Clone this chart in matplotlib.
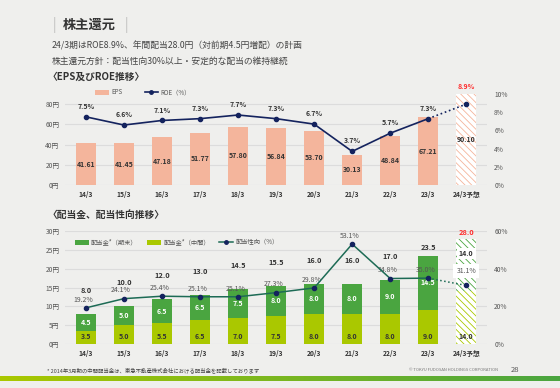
import numpy as np
import matplotlib
matplotlib.use("Agg")
import matplotlib.pyplot as plt
from matplotlib.patches import Patch
from matplotlib.lines import Line2D
from matplotlib.colors import LinearSegmentedColormap

plt.rcParams['font.family'] = ['Noto Sans CJK JP', 'DejaVu Sans']
plt.rcParams['hatch.linewidth'] = 0.6

# data
years = ['14/3', '15/3', '16/3', '17/3', '18/3', '19/3', '20/3', '21/3', '22/3', '23/3', '24/3予想']
eps = [41.61, 41.45, 47.18, 51.77, 57.80, 56.84, 53.70, 30.13, 48.84, 67.21, 90.10]
roe = [7.5, 6.6, 7.1, 7.3, 7.7, 7.3, 6.7, 3.7, 5.7, 7.3, 8.9]
div_interim = [3.5, 5.0, 5.5, 6.5, 7.0, 7.5, 8.0, 8.0, 8.0, 9.0, 14.0]
div_yearend = [4.5, 5.0, 6.5, 6.5, 7.5, 8.0, 8.0, 8.0, 9.0, 14.5, 14.0]
payout = [19.2, 24.1, 25.4, 25.1, 25.1, 27.3, 29.8, 53.1, 34.8, 35.0, 31.1]

BG = '#efefed'
SALMON = '#f4b59c'
NAVY = '#14235e'
GREEN = '#4aa540'
YGREEN = '#aac800'
TEAL = '#1d6b55'
TXT = '#333333'

fig = plt.figure(figsize=(5.6, 3.88), dpi=100, facecolor=BG)
x = np.arange(len(years))
n = len(years)
w = 0.52

# header text
fig.text(0.093, 0.935, '|', fontsize=10, color='#aaaaaa', va='center', fontweight='light')
fig.text(0.112, 0.935, '株主還元', fontsize=9.5, fontweight='bold', color='#333333', va='center')
fig.text(0.222, 0.935, '|', fontsize=10, color='#aaaaaa', va='center', fontweight='light')
fig.text(0.093, 0.881, '24/3期はROE8.9%、年間配当28.0円（対前期4.5円増配）の計画', fontsize=6.3, color='#444444', va='center')
fig.text(0.093, 0.842, '株主還元方針：配当性向30%以上・安定的な配当の維持継続', fontsize=6.3, color='#444444', va='center')
fig.text(0.085, 0.801, '〈EPS及びROE推移〉', fontsize=7, fontweight='bold', color='#333333', va='center')
fig.text(0.085, 0.447, '〈配当金、配当性向推移〉', fontsize=7, fontweight='bold', color='#333333', va='center')

# ---- top chart: EPS & ROE
ax1 = fig.add_axes([0.116, 0.523, 0.754, 0.2345])
ax1.set_facecolor(BG)
ax1.bar(x[:-1], eps[:-1], width=w, color=SALMON, zorder=2)
ax1.bar(x[-1], eps[-1], width=w, color='white', edgecolor=SALMON, linewidth=0, hatch='\\\\\\\\\\', zorder=2)
for i in range(n):
    ax1.text(x[i], eps[i] / 2, f'{eps[i]:.2f}', ha='center', va='center', fontsize=5, fontweight='bold', color=TXT, zorder=5)
ax1.set_ylim(0, 90)
ax1.set_yticks([0, 20, 40, 60, 80])
ax1.set_yticklabels([f'{v}円' for v in [0, 20, 40, 60, 80]])
ax1.set_xlim(-0.55, n - 0.45)
ax1.set_xticks(x)
ax1.set_xticklabels(years, fontweight='bold')
ax1.grid(axis='y', color='#dcdcdc', linewidth=0.8, zorder=0)
ax1.set_axisbelow(True)
for s in ax1.spines.values():
    s.set_visible(False)
ax1.tick_params(length=0, labelsize=4.8, colors='#555555', pad=4)
ax1.tick_params(axis='x', pad=4, colors=TXT)

ax1r = ax1.twinx()
ax1r.plot(x[:-1], roe[:-1], color=NAVY, linewidth=1.2, marker='o', markersize=3, zorder=4)
ax1r.plot(x[-2:], roe[-2:], color=NAVY, linewidth=1.2, linestyle=':', zorder=4)
ax1r.plot(x[-1], roe[-1], color=NAVY, marker='o', markersize=3, zorder=4)
for i in range(n):
    last = i == n - 1
    ax1r.annotate(f'{roe[i]:.1f}%', (x[i], roe[i]), xytext=(0, 10 if last else 5), textcoords='offset points',
                  ha='center', va='bottom', fontsize=5, fontweight='bold',
                  color='#ff2a2a' if last else TXT)
ax1r.set_ylim(0, 10)
ax1r.set_yticks([0, 2, 4, 6, 8, 10])
ax1r.set_yticklabels([f'{v}%' for v in [0, 2, 4, 6, 8, 10]])
for s in ax1r.spines.values():
    s.set_visible(False)
ax1r.tick_params(length=0, labelsize=4.8, colors='#555555', pad=5)

leg1 = fig.legend(handles=[Patch(facecolor=SALMON, label='EPS'),
                           Line2D([0], [0], color=NAVY, marker='o', markersize=2.5, linewidth=1.2, label='ROE（%）')],
                  loc='center left', bbox_to_anchor=(0.16, 0.762), ncol=2, frameon=False, fontsize=4.5,
                  handlelength=2.2, handleheight=0.8, columnspacing=3.5, handletextpad=0.4)
for t in leg1.get_texts():
    t.set_color('#555555')

# ---- bottom chart: dividends & payout ratio
ax2 = fig.add_axes([0.116, 0.1134, 0.754, 0.291])
ax2.set_facecolor(BG)
ax2.bar(x[:-1], div_interim[:-1], width=w, color=YGREEN, zorder=2)
ax2.bar(x[:-1], div_yearend[:-1], width=w, bottom=div_interim[:-1], color=GREEN, zorder=2)
ax2.bar(x[-1], div_interim[-1], width=w, color='white', edgecolor=YGREEN, linewidth=0, hatch='\\\\\\\\\\', zorder=2)
ax2.bar(x[-1], div_yearend[-1], width=w, bottom=div_interim[-1], color='white', edgecolor=GREEN, linewidth=0,
        hatch='\\\\\\\\\\', zorder=2)

total = [a + b for a, b in zip(div_interim, div_yearend)]
total_off = [5.3] * 9 + [1.2, 0.6]
for i in range(n):
    ax2.text(x[i], 2.0, f'{div_interim[i]:.1f}', ha='center', va='center', fontsize=5, fontweight='bold', color=TXT, zorder=5)
    if i < n - 1:
        ax2.text(x[i], div_interim[i] + div_yearend[i] / 2, f'{div_yearend[i]:.1f}', ha='center', va='center',
                 fontsize=5, fontweight='bold', color='white', zorder=5)
    else:
        ax2.text(x[i], 24.0, f'{div_yearend[i]:.1f}', ha='center', va='center', fontsize=5, fontweight='bold',
                 color=TXT, zorder=5, bbox=dict(facecolor='white', edgecolor='none', pad=1.6))
    ax2.text(x[i], total[i] + total_off[i], f'{total[i]:.1f}', ha='center', va='bottom', fontsize=5.3,
             fontweight='bold', color='#ff2a2a' if i == n - 1 else TXT, zorder=5)
ax2.set_ylim(0, 30)
ax2.set_yticks(range(0, 31, 5))
ax2.set_yticklabels([f'{v}円' for v in range(0, 31, 5)])
ax2.set_xlim(-0.55, n - 0.45)
ax2.set_xticks(x)
ax2.set_xticklabels(years, fontweight='bold')
ax2.grid(axis='y', color='#dcdcdc', linewidth=0.8, zorder=0)
ax2.set_axisbelow(True)
for s in ax2.spines.values():
    s.set_visible(False)
ax2.tick_params(length=0, labelsize=4.8, colors='#555555', pad=4)
ax2.tick_params(axis='x', pad=4, colors=TXT)

ax2r = ax2.twinx()
ax2r.plot(x[:-1], payout[:-1], color=TEAL, linewidth=1.1, zorder=4)
ax2r.plot(x[-2:], payout[-2:], color=TEAL, linewidth=1.1, linestyle=':', zorder=4)
ax2r.plot(x, payout, linestyle='none', marker='o', markersize=3, color=NAVY, zorder=5)
for i in range(n):
    if i == n - 1:
        ax2r.text(x[i], payout[i] + 7.5, f'{payout[i]:.1f}%', ha='center', va='center', fontsize=5,
                  color='#555555', zorder=6, bbox=dict(facecolor='white', edgecolor='none', pad=2.2))
    else:
        ax2r.annotate(f'{payout[i]:.1f}%', (x[i], payout[i]), xytext=(-2, 3), textcoords='offset points',
                      ha='center', va='bottom', fontsize=5, color='#555555')
ax2r.set_ylim(0, 60)
ax2r.set_yticks([0, 20, 40, 60])
ax2r.set_yticklabels([f'{v}%' for v in [0, 20, 40, 60]])
for s in ax2r.spines.values():
    s.set_visible(False)
ax2r.tick_params(length=0, labelsize=4.8, colors='#555555', pad=5)

leg2 = ax2.legend(handles=[Patch(facecolor=GREEN, label='配当金*（期末）'),
                           Patch(facecolor=YGREEN, label='配当金*（中間）'),
                           Line2D([0], [0], color=TEAL, marker='o', markerfacecolor=NAVY, markeredgecolor=NAVY,
                                  markersize=2.5, linewidth=1.1, label='配当性向（%）')],
                  loc='center left', bbox_to_anchor=(0.01, 0.9), ncol=3, frameon=False, fontsize=4.5,
                  handlelength=2.2, handleheight=0.8, columnspacing=1.5, handletextpad=0.4)
for t in leg2.get_texts():
    t.set_color('#555555')

# footer
fig.text(0.084, 0.046, '* 2014年3月期の中間配当金は、東急不動産株式会社における配当金を記載しております', fontsize=3.9,
         color='#444444', va='center')
fig.text(0.89, 0.046, '© TOKYU FUDOSAN HOLDINGS CORPORATION', fontsize=3, color='#777777', va='center', ha='right')
fig.text(0.912, 0.046, '28', fontsize=5.5, color='#555555', va='center')

axg = fig.add_axes([0, 0.018, 1, 0.013])
grad = np.linspace(0, 1, 256)[None, :]
cmap = LinearSegmentedColormap.from_list('g', [YGREEN, GREEN])
axg.imshow(grad, aspect='auto', cmap=cmap)
axg.axis('off')

fig.savefig('out.png', dpi=100, facecolor=BG)
